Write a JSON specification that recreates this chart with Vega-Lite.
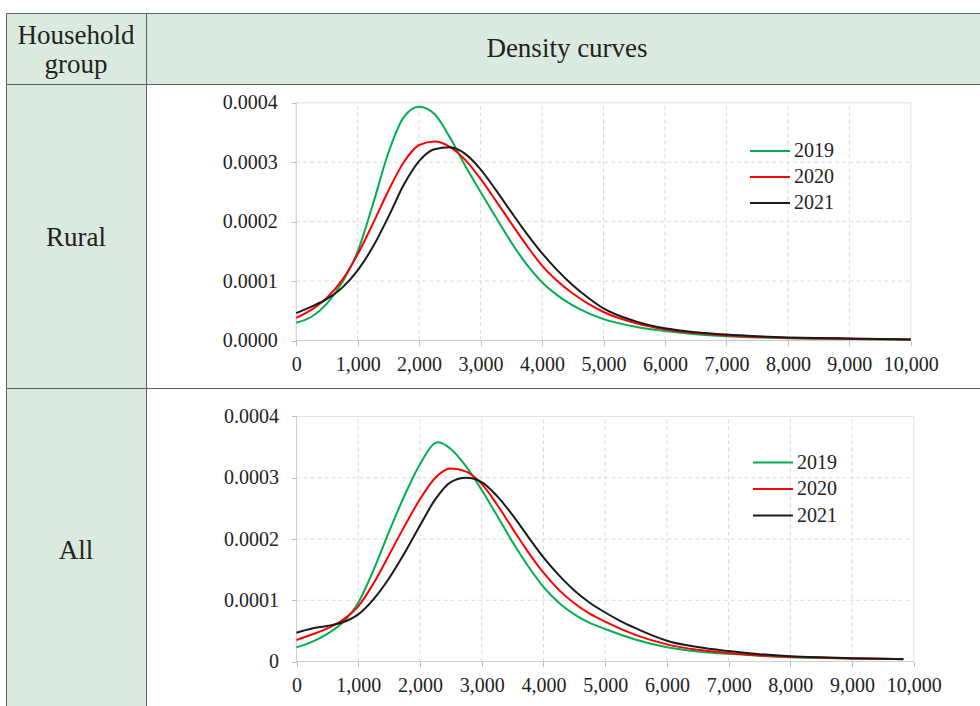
{
  "$schema": "https://vega.github.io/schema/vega-lite/v6.json",
  "padding": {"left": 5, "top": 12, "right": 0, "bottom": 0},
  "background": "white",
  "spacing": 0,
  "columns": 2,
  "bounds": "flush",
  "config": {
    "view": {"stroke": "#5f5f5f", "strokeWidth": 1},
    "font": "Liberation Serif",
    "concat": {"spacing": 0},
    "text": {"font": "Liberation Serif"}
  },
  "resolve": {"scale": {"color": "independent", "x": "independent", "y": "independent"}, "legend": {"color": "independent"}, "axis": {"x": "independent", "y": "independent"}},
  "datasets": {
    "vlines": [
      {"v": 0, "k": "axis"}, {"v": 1000, "k": "grid"}, {"v": 2000, "k": "grid"}, {"v": 3000, "k": "grid"},
      {"v": 4000, "k": "grid"}, {"v": 5000, "k": "grid"}, {"v": 6000, "k": "grid"}, {"v": 7000, "k": "grid"},
      {"v": 8000, "k": "grid"}, {"v": 9000, "k": "grid"}, {"v": 10000, "k": "edge"}
    ],
    "hlines": [
      {"h": 0, "k": "axis"}, {"h": 0.0001, "k": "grid"}, {"h": 0.0002, "k": "grid"}, {"h": 0.0003, "k": "grid"}, {"h": 0.0004, "k": "edge"}
    ],
    "curves": [
      {"group": "Rural", "year": "2019", "income": 0, "density": 0.0000300},
      {"group": "Rural", "year": "2019", "income": 250, "density": 0.0000400},
      {"group": "Rural", "year": "2019", "income": 500, "density": 0.0000620},
      {"group": "Rural", "year": "2019", "income": 750, "density": 0.0000980},
      {"group": "Rural", "year": "2019", "income": 1000, "density": 0.0001500},
      {"group": "Rural", "year": "2019", "income": 1250, "density": 0.0002300},
      {"group": "Rural", "year": "2019", "income": 1500, "density": 0.0003160},
      {"group": "Rural", "year": "2019", "income": 1750, "density": 0.0003760},
      {"group": "Rural", "year": "2019", "income": 2000, "density": 0.0003935},
      {"group": "Rural", "year": "2019", "income": 2250, "density": 0.0003810},
      {"group": "Rural", "year": "2019", "income": 2500, "density": 0.0003420},
      {"group": "Rural", "year": "2019", "income": 2750, "density": 0.0002940},
      {"group": "Rural", "year": "2019", "income": 3000, "density": 0.0002500},
      {"group": "Rural", "year": "2019", "income": 3250, "density": 0.0002070},
      {"group": "Rural", "year": "2019", "income": 3500, "density": 0.0001650},
      {"group": "Rural", "year": "2019", "income": 3750, "density": 0.0001280},
      {"group": "Rural", "year": "2019", "income": 4000, "density": 0.0000980},
      {"group": "Rural", "year": "2019", "income": 4250, "density": 0.0000760},
      {"group": "Rural", "year": "2019", "income": 4500, "density": 0.0000590},
      {"group": "Rural", "year": "2019", "income": 4750, "density": 0.0000460},
      {"group": "Rural", "year": "2019", "income": 5000, "density": 0.0000360},
      {"group": "Rural", "year": "2019", "income": 5500, "density": 0.0000235},
      {"group": "Rural", "year": "2019", "income": 6000, "density": 0.0000160},
      {"group": "Rural", "year": "2019", "income": 6500, "density": 0.0000105},
      {"group": "Rural", "year": "2019", "income": 7000, "density": 0.0000072},
      {"group": "Rural", "year": "2019", "income": 7500, "density": 0.0000052},
      {"group": "Rural", "year": "2019", "income": 8000, "density": 0.0000039},
      {"group": "Rural", "year": "2019", "income": 8500, "density": 0.0000031},
      {"group": "Rural", "year": "2019", "income": 9000, "density": 0.0000026},
      {"group": "Rural", "year": "2019", "income": 9500, "density": 0.0000022},
      {"group": "Rural", "year": "2019", "income": 10000, "density": 0.0000017},
      {"group": "Rural", "year": "2020", "income": 0, "density": 0.0000380},
      {"group": "Rural", "year": "2020", "income": 250, "density": 0.0000520},
      {"group": "Rural", "year": "2020", "income": 500, "density": 0.0000720},
      {"group": "Rural", "year": "2020", "income": 750, "density": 0.0001020},
      {"group": "Rural", "year": "2020", "income": 1000, "density": 0.0001450},
      {"group": "Rural", "year": "2020", "income": 1250, "density": 0.0001970},
      {"group": "Rural", "year": "2020", "income": 1500, "density": 0.0002520},
      {"group": "Rural", "year": "2020", "income": 1750, "density": 0.0003000},
      {"group": "Rural", "year": "2020", "income": 2000, "density": 0.0003290},
      {"group": "Rural", "year": "2020", "income": 2250, "density": 0.0003350},
      {"group": "Rural", "year": "2020", "income": 2500, "density": 0.0003260},
      {"group": "Rural", "year": "2020", "income": 2750, "density": 0.0003040},
      {"group": "Rural", "year": "2020", "income": 3000, "density": 0.0002720},
      {"group": "Rural", "year": "2020", "income": 3250, "density": 0.0002350},
      {"group": "Rural", "year": "2020", "income": 3500, "density": 0.0001970},
      {"group": "Rural", "year": "2020", "income": 3750, "density": 0.0001600},
      {"group": "Rural", "year": "2020", "income": 4000, "density": 0.0001260},
      {"group": "Rural", "year": "2020", "income": 4250, "density": 0.0001000},
      {"group": "Rural", "year": "2020", "income": 4500, "density": 0.0000790},
      {"group": "Rural", "year": "2020", "income": 4750, "density": 0.0000620},
      {"group": "Rural", "year": "2020", "income": 5000, "density": 0.0000480},
      {"group": "Rural", "year": "2020", "income": 5500, "density": 0.0000300},
      {"group": "Rural", "year": "2020", "income": 6000, "density": 0.0000190},
      {"group": "Rural", "year": "2020", "income": 6500, "density": 0.0000125},
      {"group": "Rural", "year": "2020", "income": 7000, "density": 0.0000085},
      {"group": "Rural", "year": "2020", "income": 7500, "density": 0.0000060},
      {"group": "Rural", "year": "2020", "income": 8000, "density": 0.0000043},
      {"group": "Rural", "year": "2020", "income": 8500, "density": 0.0000034},
      {"group": "Rural", "year": "2020", "income": 9000, "density": 0.0000028},
      {"group": "Rural", "year": "2020", "income": 9500, "density": 0.0000023},
      {"group": "Rural", "year": "2020", "income": 10000, "density": 0.0000018},
      {"group": "Rural", "year": "2021", "income": 0, "density": 0.0000460},
      {"group": "Rural", "year": "2021", "income": 250, "density": 0.0000570},
      {"group": "Rural", "year": "2021", "income": 500, "density": 0.0000700},
      {"group": "Rural", "year": "2021", "income": 750, "density": 0.0000890},
      {"group": "Rural", "year": "2021", "income": 1000, "density": 0.0001180},
      {"group": "Rural", "year": "2021", "income": 1250, "density": 0.0001580},
      {"group": "Rural", "year": "2021", "income": 1500, "density": 0.0002080},
      {"group": "Rural", "year": "2021", "income": 1750, "density": 0.0002620},
      {"group": "Rural", "year": "2021", "income": 2000, "density": 0.0003020},
      {"group": "Rural", "year": "2021", "income": 2250, "density": 0.0003220},
      {"group": "Rural", "year": "2021", "income": 2500, "density": 0.0003250},
      {"group": "Rural", "year": "2021", "income": 2750, "density": 0.0003140},
      {"group": "Rural", "year": "2021", "income": 3000, "density": 0.0002880},
      {"group": "Rural", "year": "2021", "income": 3250, "density": 0.0002530},
      {"group": "Rural", "year": "2021", "income": 3500, "density": 0.0002160},
      {"group": "Rural", "year": "2021", "income": 3750, "density": 0.0001800},
      {"group": "Rural", "year": "2021", "income": 4000, "density": 0.0001470},
      {"group": "Rural", "year": "2021", "income": 4250, "density": 0.0001180},
      {"group": "Rural", "year": "2021", "income": 4500, "density": 0.0000930},
      {"group": "Rural", "year": "2021", "income": 4750, "density": 0.0000720},
      {"group": "Rural", "year": "2021", "income": 5000, "density": 0.0000540},
      {"group": "Rural", "year": "2021", "income": 5500, "density": 0.0000330},
      {"group": "Rural", "year": "2021", "income": 6000, "density": 0.0000205},
      {"group": "Rural", "year": "2021", "income": 6500, "density": 0.0000140},
      {"group": "Rural", "year": "2021", "income": 7000, "density": 0.0000100},
      {"group": "Rural", "year": "2021", "income": 7500, "density": 0.0000072},
      {"group": "Rural", "year": "2021", "income": 8000, "density": 0.0000052},
      {"group": "Rural", "year": "2021", "income": 8500, "density": 0.0000041},
      {"group": "Rural", "year": "2021", "income": 9000, "density": 0.0000034},
      {"group": "Rural", "year": "2021", "income": 9500, "density": 0.0000026},
      {"group": "Rural", "year": "2021", "income": 10000, "density": 0.0000018},
      {"group": "All", "year": "2019", "income": 0, "density": 0.0000230},
      {"group": "All", "year": "2019", "income": 250, "density": 0.0000320},
      {"group": "All", "year": "2019", "income": 500, "density": 0.0000450},
      {"group": "All", "year": "2019", "income": 750, "density": 0.0000640},
      {"group": "All", "year": "2019", "income": 1000, "density": 0.0000960},
      {"group": "All", "year": "2019", "income": 1250, "density": 0.0001500},
      {"group": "All", "year": "2019", "income": 1500, "density": 0.0002120},
      {"group": "All", "year": "2019", "income": 1750, "density": 0.0002710},
      {"group": "All", "year": "2019", "income": 2000, "density": 0.0003220},
      {"group": "All", "year": "2019", "income": 2250, "density": 0.0003570},
      {"group": "All", "year": "2019", "income": 2300, "density": 0.0003580},
      {"group": "All", "year": "2019", "income": 2500, "density": 0.0003470},
      {"group": "All", "year": "2019", "income": 2750, "density": 0.0003180},
      {"group": "All", "year": "2019", "income": 3000, "density": 0.0002800},
      {"group": "All", "year": "2019", "income": 3250, "density": 0.0002380},
      {"group": "All", "year": "2019", "income": 3500, "density": 0.0001950},
      {"group": "All", "year": "2019", "income": 3750, "density": 0.0001560},
      {"group": "All", "year": "2019", "income": 4000, "density": 0.0001220},
      {"group": "All", "year": "2019", "income": 4250, "density": 0.0000960},
      {"group": "All", "year": "2019", "income": 4500, "density": 0.0000770},
      {"group": "All", "year": "2019", "income": 4750, "density": 0.0000630},
      {"group": "All", "year": "2019", "income": 5000, "density": 0.0000530},
      {"group": "All", "year": "2019", "income": 5500, "density": 0.0000355},
      {"group": "All", "year": "2019", "income": 6000, "density": 0.0000234},
      {"group": "All", "year": "2019", "income": 6500, "density": 0.0000165},
      {"group": "All", "year": "2019", "income": 7000, "density": 0.0000125},
      {"group": "All", "year": "2019", "income": 7500, "density": 0.0000093},
      {"group": "All", "year": "2019", "income": 8000, "density": 0.0000070},
      {"group": "All", "year": "2019", "income": 8500, "density": 0.0000058},
      {"group": "All", "year": "2019", "income": 9000, "density": 0.0000049},
      {"group": "All", "year": "2019", "income": 9500, "density": 0.0000042},
      {"group": "All", "year": "2019", "income": 9830, "density": 0.0000038},
      {"group": "All", "year": "2020", "income": 0, "density": 0.0000350},
      {"group": "All", "year": "2020", "income": 250, "density": 0.0000440},
      {"group": "All", "year": "2020", "income": 500, "density": 0.0000540},
      {"group": "All", "year": "2020", "income": 750, "density": 0.0000680},
      {"group": "All", "year": "2020", "income": 1000, "density": 0.0000900},
      {"group": "All", "year": "2020", "income": 1250, "density": 0.0001280},
      {"group": "All", "year": "2020", "income": 1500, "density": 0.0001740},
      {"group": "All", "year": "2020", "income": 1750, "density": 0.0002210},
      {"group": "All", "year": "2020", "income": 2000, "density": 0.0002650},
      {"group": "All", "year": "2020", "income": 2250, "density": 0.0003000},
      {"group": "All", "year": "2020", "income": 2500, "density": 0.0003150},
      {"group": "All", "year": "2020", "income": 2750, "density": 0.0003100},
      {"group": "All", "year": "2020", "income": 3000, "density": 0.0002900},
      {"group": "All", "year": "2020", "income": 3250, "density": 0.0002560},
      {"group": "All", "year": "2020", "income": 3500, "density": 0.0002170},
      {"group": "All", "year": "2020", "income": 3750, "density": 0.0001790},
      {"group": "All", "year": "2020", "income": 4000, "density": 0.0001450},
      {"group": "All", "year": "2020", "income": 4250, "density": 0.0001170},
      {"group": "All", "year": "2020", "income": 4500, "density": 0.0000950},
      {"group": "All", "year": "2020", "income": 4750, "density": 0.0000780},
      {"group": "All", "year": "2020", "income": 5000, "density": 0.0000650},
      {"group": "All", "year": "2020", "income": 5500, "density": 0.0000430},
      {"group": "All", "year": "2020", "income": 6000, "density": 0.0000280},
      {"group": "All", "year": "2020", "income": 6500, "density": 0.0000190},
      {"group": "All", "year": "2020", "income": 7000, "density": 0.0000140},
      {"group": "All", "year": "2020", "income": 7500, "density": 0.0000100},
      {"group": "All", "year": "2020", "income": 8000, "density": 0.0000076},
      {"group": "All", "year": "2020", "income": 8500, "density": 0.0000062},
      {"group": "All", "year": "2020", "income": 9000, "density": 0.0000051},
      {"group": "All", "year": "2020", "income": 9500, "density": 0.0000043},
      {"group": "All", "year": "2020", "income": 9830, "density": 0.0000038},
      {"group": "All", "year": "2021", "income": 0, "density": 0.0000470},
      {"group": "All", "year": "2021", "income": 250, "density": 0.0000540},
      {"group": "All", "year": "2021", "income": 500, "density": 0.0000580},
      {"group": "All", "year": "2021", "income": 750, "density": 0.0000640},
      {"group": "All", "year": "2021", "income": 1000, "density": 0.0000770},
      {"group": "All", "year": "2021", "income": 1250, "density": 0.0001020},
      {"group": "All", "year": "2021", "income": 1500, "density": 0.0001360},
      {"group": "All", "year": "2021", "income": 1750, "density": 0.0001770},
      {"group": "All", "year": "2021", "income": 2000, "density": 0.0002220},
      {"group": "All", "year": "2021", "income": 2250, "density": 0.0002650},
      {"group": "All", "year": "2021", "income": 2500, "density": 0.0002930},
      {"group": "All", "year": "2021", "income": 2750, "density": 0.0003000},
      {"group": "All", "year": "2021", "income": 3000, "density": 0.0002930},
      {"group": "All", "year": "2021", "income": 3250, "density": 0.0002700},
      {"group": "All", "year": "2021", "income": 3500, "density": 0.0002390},
      {"group": "All", "year": "2021", "income": 3750, "density": 0.0002040},
      {"group": "All", "year": "2021", "income": 4000, "density": 0.0001700},
      {"group": "All", "year": "2021", "income": 4250, "density": 0.0001410},
      {"group": "All", "year": "2021", "income": 4500, "density": 0.0001160},
      {"group": "All", "year": "2021", "income": 4750, "density": 0.0000960},
      {"group": "All", "year": "2021", "income": 5000, "density": 0.0000800},
      {"group": "All", "year": "2021", "income": 5250, "density": 0.0000660},
      {"group": "All", "year": "2021", "income": 5500, "density": 0.0000540},
      {"group": "All", "year": "2021", "income": 5750, "density": 0.0000430},
      {"group": "All", "year": "2021", "income": 6000, "density": 0.0000340},
      {"group": "All", "year": "2021", "income": 6500, "density": 0.0000235},
      {"group": "All", "year": "2021", "income": 7000, "density": 0.0000170},
      {"group": "All", "year": "2021", "income": 7500, "density": 0.0000120},
      {"group": "All", "year": "2021", "income": 8000, "density": 0.0000087},
      {"group": "All", "year": "2021", "income": 8500, "density": 0.0000068},
      {"group": "All", "year": "2021", "income": 9000, "density": 0.0000054},
      {"group": "All", "year": "2021", "income": 9500, "density": 0.0000045},
      {"group": "All", "year": "2021", "income": 9830, "density": 0.0000040}
    ]
  },
  "concat": [
    {
      "width": 140, "height": 71,
      "view": {"fill": "#dbeadf", "stroke": "#5f5f5f", "strokeWidth": 1},
      "data": {"values": [{"t": "Household\ngroup"}]},
      "mark": {"type": "text", "lineBreak": "\n", "fontSize": 27, "lineHeight": 29, "dy": -13, "font": "Liberation Serif", "color": "#222222"},
      "encoding": {"text": {"field": "t"}}
    },
    {
      "width": 834, "height": 71,
      "view": {"fill": "#dbeadf", "stroke": "#5f5f5f", "strokeWidth": 1},
      "data": {"values": [{"t": "Density curves"}]},
      "mark": {"type": "text", "fontSize": 27, "dx": 4, "font": "Liberation Serif", "color": "#222222"},
      "encoding": {"text": {"field": "t"}}
    },
    {
      "width": 140, "height": 304,
      "view": {"fill": "#dbeadf", "stroke": "#5f5f5f", "strokeWidth": 1},
      "data": {"values": [{"t": "Rural"}]},
      "mark": {"type": "text", "fontSize": 27, "dy": 2, "font": "Liberation Serif", "color": "#222222"},
      "encoding": {"text": {"field": "t"}}
    },
    {
      "width": 834, "height": 304,
      "view": {"fill": "white", "stroke": "#5f5f5f", "strokeWidth": 1},
      "layer": [
        {
          "data": {"name": "vlines"},
          "mark": {"type": "rule", "strokeWidth": 1},
          "encoding": {
            "x": {"field": "v", "type": "quantitative", "scale": {"domain": [-2444, 11126], "nice": false, "zero": false}, "title": null},
            "y": {"datum": 0, "type": "quantitative", "scale": {"domain": [-0.00007993, 0.00043164], "nice": false, "zero": false}, "title": null},
            "y2": {"datum": 0.0004},
            "color": {"condition": {"test": "datum.k === 'axis'", "value": "#bfbfbf"}, "value": "#d9d9d9"},
            "strokeDash": {"condition": {"test": "datum.k === 'grid'", "value": [4, 3]}, "value": [1, 0]}
          }
        },
        {
          "data": {"name": "hlines"},
          "mark": {"type": "rule", "strokeWidth": 1},
          "encoding": {
            "y": {"field": "h", "type": "quantitative", "scale": {"domain": [-0.00007993, 0.00043164], "nice": false, "zero": false}, "title": null},
            "x": {"datum": 0, "type": "quantitative", "scale": {"domain": [-2444, 11126], "nice": false, "zero": false}, "title": null},
            "x2": {"datum": 10000},
            "color": {"condition": {"test": "datum.k === 'axis'", "value": "#bfbfbf"}, "value": "#d9d9d9"},
            "strokeDash": {"condition": {"test": "datum.k === 'grid'", "value": [4, 3]}, "value": [1, 0]}
          }
        },
        {
          "data": {"name": "curves"},
          "transform": [{"filter": "datum.group === 'Rural'"}],
          "mark": {"type": "line", "interpolate": "monotone", "strokeWidth": 2},
          "encoding": {
            "x": {"field": "income", "type": "quantitative", "scale": {"domain": [-2444, 11126], "nice": false, "zero": false},
              "axis": {"title": null, "values": [0, 1000, 2000, 3000, 4000, 5000, 6000, 7000, 8000, 9000, 10000], "labelExpr": "format(datum.value, ',')", "domain": false, "grid": false, "ticks": true, "tickColor": "#bfbfbf", "tickSize": 5, "offset": -47.5, "labelFont": "Liberation Serif", "labelFontSize": 20, "labelColor": "#222222", "labelPadding": 9, "labelFlush": false, "labelOverlap": false, "labelBound": false}},
            "y": {"field": "density", "type": "quantitative", "scale": {"domain": [-0.00007993, 0.00043164], "nice": false, "zero": false},
              "axis": {"title": null, "values": [0, 0.0001, 0.0002, 0.0003, 0.0004], "labelExpr": "format(datum.value, '.4f')", "domain": false, "grid": false, "ticks": true, "tickColor": "#bfbfbf", "tickSize": 5, "offset": -150.2, "labelFont": "Liberation Serif", "labelFontSize": 20, "labelColor": "#222222", "labelPadding": 14, "labelOverlap": false, "labelBound": false, "labelFlush": false}},
            "color": {"field": "year", "type": "nominal",
              "scale": {"domain": ["2019", "2020", "2021"], "range": ["#00b050", "#ff0000", "#1a1a1a"]},
              "legend": {"orient": "none", "legendX": 614, "legendY": 57, "title": null, "symbolType": "M-4,0H4", "symbolSize": 100, "symbolStrokeWidth": 2, "labelFont": "Liberation Serif", "labelFontSize": 20, "labelColor": "#222222", "labelOffset": 14, "rowPadding": 6, "padding": 0}}
          }
        }
      ]
    },
    {
      "width": 140, "height": 318,
      "view": {"fill": "#dbeadf", "stroke": "#5f5f5f", "strokeWidth": 1},
      "data": {"values": [{"t": "All"}]},
      "mark": {"type": "text", "fontSize": 27, "dy": 4, "font": "Liberation Serif", "color": "#222222"},
      "encoding": {"text": {"field": "t"}}
    },
    {
      "width": 834, "height": 318,
      "view": {"fill": "white", "stroke": "#5f5f5f", "strokeWidth": 1},
      "layer": [
        {
          "data": {"name": "vlines"},
          "mark": {"type": "rule", "strokeWidth": 1},
          "encoding": {
            "x": {"field": "v", "type": "quantitative", "scale": {"domain": [-2438, 11072], "nice": false, "zero": false}, "title": null},
            "y": {"datum": 0, "type": "quantitative", "scale": {"domain": [-0.00007265, 0.00044653], "nice": false, "zero": false}, "title": null},
            "y2": {"datum": 0.0004},
            "color": {"condition": {"test": "datum.k === 'axis'", "value": "#bfbfbf"}, "value": "#d9d9d9"},
            "strokeDash": {"condition": {"test": "datum.k === 'grid'", "value": [4, 3]}, "value": [1, 0]}
          }
        },
        {
          "data": {"name": "hlines"},
          "mark": {"type": "rule", "strokeWidth": 1},
          "encoding": {
            "y": {"field": "h", "type": "quantitative", "scale": {"domain": [-0.00007265, 0.00044653], "nice": false, "zero": false}, "title": null},
            "x": {"datum": 0, "type": "quantitative", "scale": {"domain": [-2438, 11072], "nice": false, "zero": false}, "title": null},
            "x2": {"datum": 10000},
            "color": {"condition": {"test": "datum.k === 'axis'", "value": "#bfbfbf"}, "value": "#d9d9d9"},
            "strokeDash": {"condition": {"test": "datum.k === 'grid'", "value": [4, 3]}, "value": [1, 0]}
          }
        },
        {
          "data": {"name": "curves"},
          "transform": [{"filter": "datum.group === 'All'"}],
          "mark": {"type": "line", "interpolate": "monotone", "strokeWidth": 2},
          "encoding": {
            "x": {"field": "income", "type": "quantitative", "scale": {"domain": [-2438, 11072], "nice": false, "zero": false},
              "axis": {"title": null, "values": [0, 1000, 2000, 3000, 4000, 5000, 6000, 7000, 8000, 9000, 10000], "labelExpr": "format(datum.value, ',')", "domain": false, "grid": false, "ticks": true, "tickColor": "#bfbfbf", "tickSize": 5, "offset": -44.5, "labelFont": "Liberation Serif", "labelFontSize": 20, "labelColor": "#222222", "labelPadding": 9, "labelFlush": false, "labelOverlap": false, "labelBound": false}},
            "y": {"field": "density", "type": "quantitative", "scale": {"domain": [-0.00007265, 0.00044653], "nice": false, "zero": false},
              "axis": {"title": null, "values": [0, 0.0001, 0.0002, 0.0003, 0.0004], "labelExpr": "datum.value == 0 ? '0' : format(datum.value, '.4f')", "domain": false, "grid": false, "ticks": true, "tickColor": "#bfbfbf", "tickSize": 5, "offset": -150.5, "labelFont": "Liberation Serif", "labelFontSize": 20, "labelColor": "#222222", "labelPadding": 13, "labelOverlap": false, "labelBound": false, "labelFlush": false}},
            "color": {"field": "year", "type": "nominal",
              "scale": {"domain": ["2019", "2020", "2021"], "range": ["#00b050", "#ff0000", "#1a1a1a"]},
              "legend": {"orient": "none", "legendX": 617, "legendY": 64.5, "title": null, "symbolType": "M-4,0H4", "symbolSize": 100, "symbolStrokeWidth": 2, "labelFont": "Liberation Serif", "labelFontSize": 20, "labelColor": "#222222", "labelOffset": 14, "rowPadding": 6.5, "padding": 0}}
          }
        }
      ]
    }
  ]
}
